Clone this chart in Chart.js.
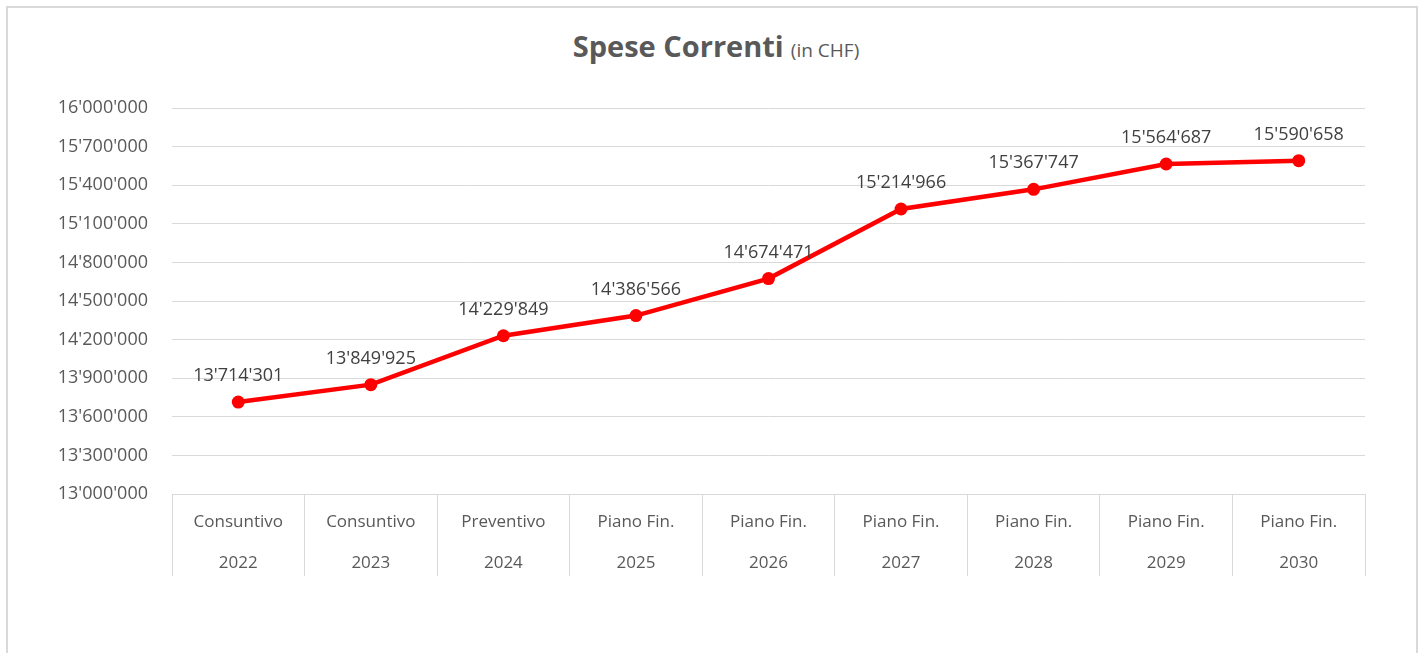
<!DOCTYPE html>
<html>
<head>
<meta charset="utf-8">
<script src="https://cdn.jsdelivr.net/npm/chart.js@4/dist/chart.umd.min.js"></script>
<style>
	html, body { margin: 0; padding: 0; width: 1427px; height: 653px; overflow: hidden; background: #ffffff; }
	#chart-frame { position: absolute; left: 6px; top: 6px; width: 1412px; height: 700px; border: 2px solid #d9d9d9; box-sizing: border-box; }
	#chart-title { position: absolute; left: 0; width: 1432px; top: 27px; line-height: 38px; text-align: center; color: #595959; font-family: "Open Sans", sans-serif; white-space: nowrap; }
	#chart-title b { font-size: 29px; font-weight: 700; }
	#chart-title span { font-size: 19px; margin-left: 3px; }
	#chart-canvas { position: absolute; left: 0; top: 0; }
</style>
</head>
<body>
<div id="chart-frame"></div>
<div id="chart-title"><b>Spese Correnti</b> <span>(in CHF)</span></div>
<canvas id="chart-canvas" width="1427" height="653"></canvas>
<script>
var categoryTypes = ["Consuntivo", "Consuntivo", "Preventivo", "Piano Fin.", "Piano Fin.", "Piano Fin.", "Piano Fin.", "Piano Fin.", "Piano Fin."];
var categoryYears = ["2022", "2023", "2024", "2025", "2026", "2027", "2028", "2029", "2030"];
var speseCorrenti = [13714301, 13849925, 14229849, 14386566, 14674471, 15214966, 15367747, 15564687, 15590658];
var axisMin = 13000000;
var axisMax = 16000000;
var axisStep = 300000;

function formatSwiss(value) {
	return Math.round(value).toString().replace(/\B(?=(\d{3})+(?!\d))/g, "'");
}

// etichette sopra i punti
var pointLabelsPlugin = {
	id: "pointLabels",
	afterDatasetsDraw: function(chart) {
		var ctx = chart.ctx;
		var meta = chart.getDatasetMeta(0);
		
		ctx.save();
		ctx.font = "18px 'Open Sans'";
		ctx.fillStyle = "#404040";
		ctx.textAlign = "center";
		ctx.textBaseline = "alphabetic";
		
		for(let i = 0; i < meta.data.length; i++)
			ctx.fillText(formatSwiss(speseCorrenti[i]), meta.data[i].x, meta.data[i].y - 21);
		
		ctx.restore();
	}
};

window.onload = function() {
	var labels = [];
	
	for(let i = 0; i < categoryTypes.length; i++)
		labels.push([categoryTypes[i], categoryYears[i]]);
	
	window.speseChart = new Chart(document.getElementById("chart-canvas"), {
		type: "line",
		data: {
			labels: labels,
			datasets: [{
				label: "Spese Correnti",
				data: speseCorrenti,
				borderColor: "#ff0000",
				backgroundColor: "#ff0000",
				borderWidth: 4.5,
				pointRadius: 6.5,
				pointBorderWidth: 0,
				pointBackgroundColor: "#ff0000",
				tension: 0
			}]
		},
		options: {
			responsive: false,
			animation: false,
			layout: {
				padding: { left: 0, right: 62, top: 108, bottom: 0 }
			},
			plugins: {
				legend: { display: false },
				title: { display: false },
				tooltip: { enabled: false }
			},
			scales: {
				x: {
					offset: true,
					afterFit: function(scale) { scale.height = 159; },
					border: { display: true, color: "#d9d9d9", width: 1 },
					grid: {
						offset: true,
						drawOnChartArea: false,
						drawTicks: true,
						tickLength: 82,
						color: "#d9d9d9",
						lineWidth: 1
					},
					ticks: {
						color: "#595959",
						padding: -75,
						maxRotation: 0,
						autoSkip: false,
						font: { family: "'Open Sans'", size: 17, lineHeight: "41.5px" }
					}
				},
				y: {
					min: axisMin,
					max: axisMax,
					afterFit: function(scale) { scale.width = 172; },
					border: { display: false },
					grid: {
						drawTicks: false,
						color: "#d9d9d9",
						lineWidth: 1
					},
					ticks: {
						stepSize: axisStep,
						color: "#595959",
						padding: 24,
						font: { family: "'Open Sans'", size: 18 },
						callback: function(value) { return formatSwiss(value); }
					}
				}
			}
		},
		plugins: [pointLabelsPlugin]
	});
}
</script>
</body>
</html>
